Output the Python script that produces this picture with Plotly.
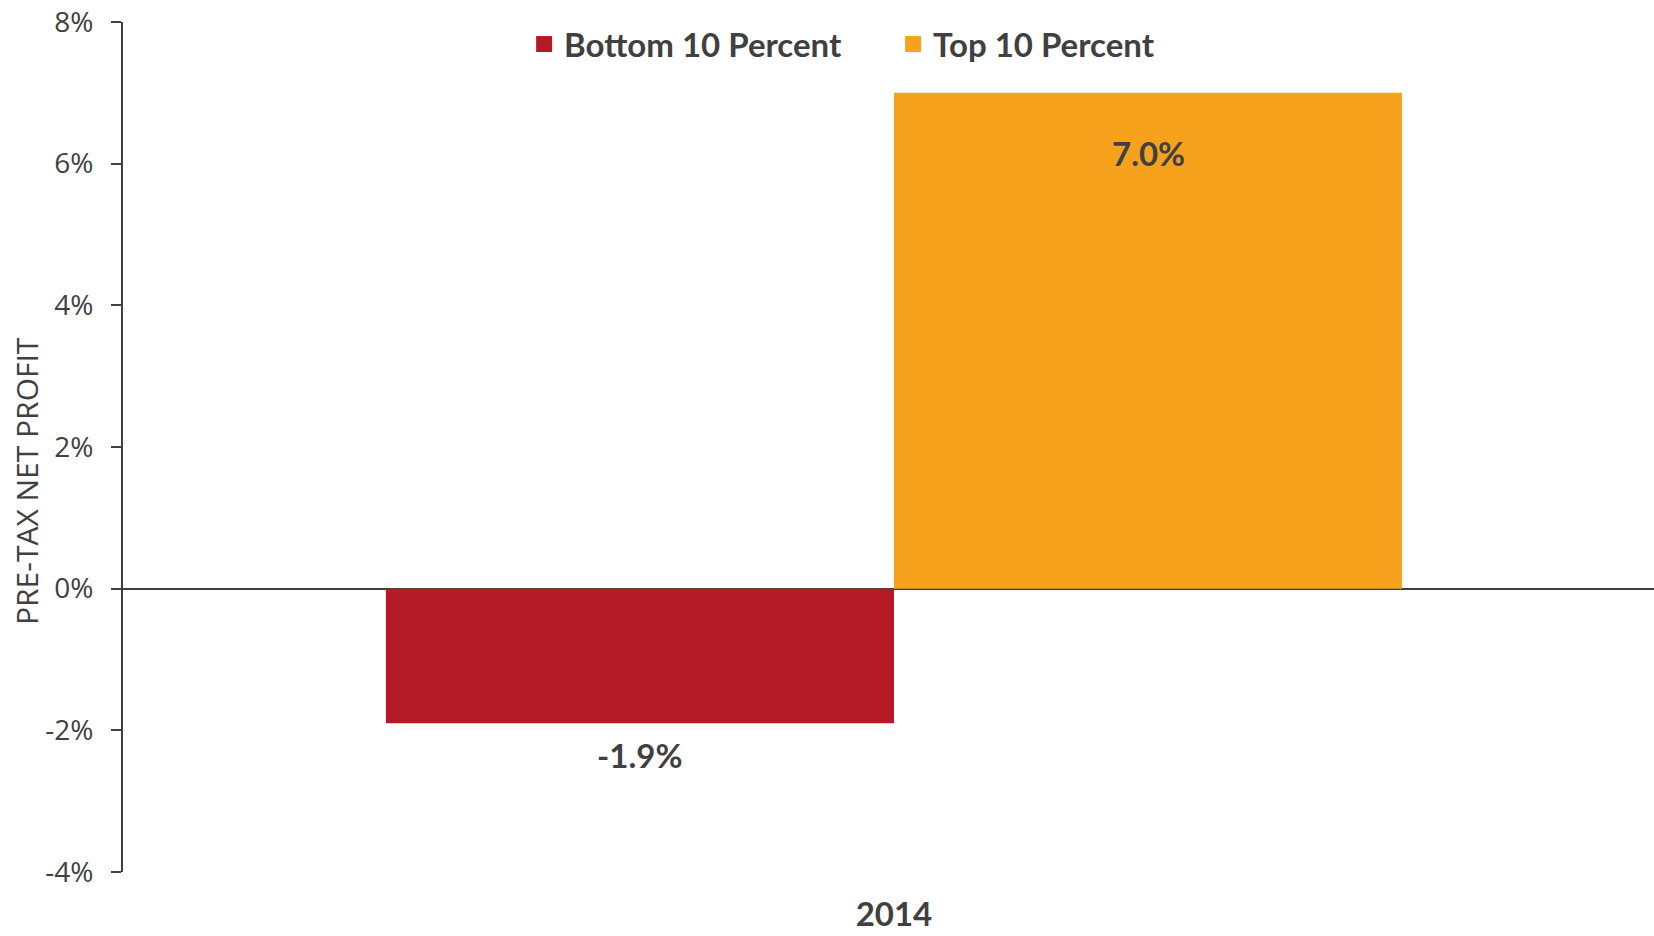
import plotly.graph_objects as go

# Pre-tax net profit by performance group
years = ["2014"]
groups = ["Bottom 10 Percent", "Top 10 Percent"]
bottom_10 = [-1.9]
top_10 = [7.0]
y_ticks = [-4, -2, 0, 2, 4, 6, 8]
y_tick_labels = ["-4%", "-2%", "0%", "2%", "4%", "6%", "8%"]

TEXT = "#404040"
RED = "#B31A25"
ORANGE = "#F7A21D"
BOLD_FONT = "Lato"
REG_FONT = "Open Sans"
BOLD_SIZE = 33

fig = go.Figure()
fig.add_trace(go.Bar(name=groups[0], x=years, y=bottom_10, marker_color=RED,
                     marker_line_width=0, showlegend=False))
fig.add_trace(go.Bar(name=groups[1], x=years, y=top_10, marker_color=ORANGE,
                     marker_line_width=0, showlegend=False))

# legend entries drawn as large square swatches
for name, color in zip(groups, [RED, ORANGE]):
    fig.add_trace(go.Scatter(name=name, x=[None], y=[None], mode="markers",
                             marker=dict(symbol="square", size=20, color=color),
                             showlegend=True, hoverinfo="skip"))

# value labels: below the negative bar, just inside the top of the positive bar
fig.add_annotation(x=-0.165, y=bottom_10[0], xref="x", yref="y",
                   text=f"{bottom_10[0]:.1f}%", showarrow=False, yshift=-32,
                   font=dict(family=BOLD_FONT, size=BOLD_SIZE, color=TEXT, weight="bold"))
fig.add_annotation(x=0.165, y=top_10[0], xref="x", yref="y",
                   text=f"{top_10[0]:.1f}%", showarrow=False, yshift=-60,
                   font=dict(family=BOLD_FONT, size=BOLD_SIZE, color=TEXT, weight="bold"))

# y-axis title
fig.add_annotation(x=0, y=0.5, xref="paper", yref="paper", xanchor="center",
                   yanchor="middle", text="PRE-TAX NET PROFIT", textangle=-90,
                   showarrow=False, xshift=-97, yshift=-34,
                   font=dict(family=REG_FONT, size=30, color=TEXT))

fig.update_layout(
    width=1654, height=936,
    margin=dict(l=123, r=0, t=22, b=64),
    paper_bgcolor="white", plot_bgcolor="white",
    barmode="group", bargap=0.341, bargroupgap=0,
    font=dict(family=REG_FONT, color=TEXT),
    showlegend=True,
    legend=dict(orientation="h", x=0.262, xanchor="left", y=0.974, yanchor="middle",
                font=dict(family=BOLD_FONT, size=BOLD_SIZE, color=TEXT, weight="bold"),
                itemwidth=30, tracegroupgap=0, bgcolor="rgba(0,0,0,0)",
                entrywidth=324, entrywidthmode="pixels"),
    xaxis=dict(range=[-0.5, 0.4929], showline=False, showgrid=False, zeroline=False,
               ticks="", ticklabelstandoff=20, automargin=False,
               tickfont=dict(family=BOLD_FONT, size=BOLD_SIZE, color=TEXT, weight="bold")),
    yaxis=dict(range=[-4, 8], tickvals=y_ticks, ticktext=y_tick_labels,
               showgrid=False, showline=True, linecolor=TEXT, linewidth=2,
               ticks="outside", ticklen=10, tickwidth=2, tickcolor=TEXT,
               ticklabelstandoff=12, automargin=False,
               zeroline=True, zerolinecolor=TEXT, zerolinewidth=2,
               tickfont=dict(family=REG_FONT, size=28, color=TEXT)),
)

fig.write_html("out.html")
